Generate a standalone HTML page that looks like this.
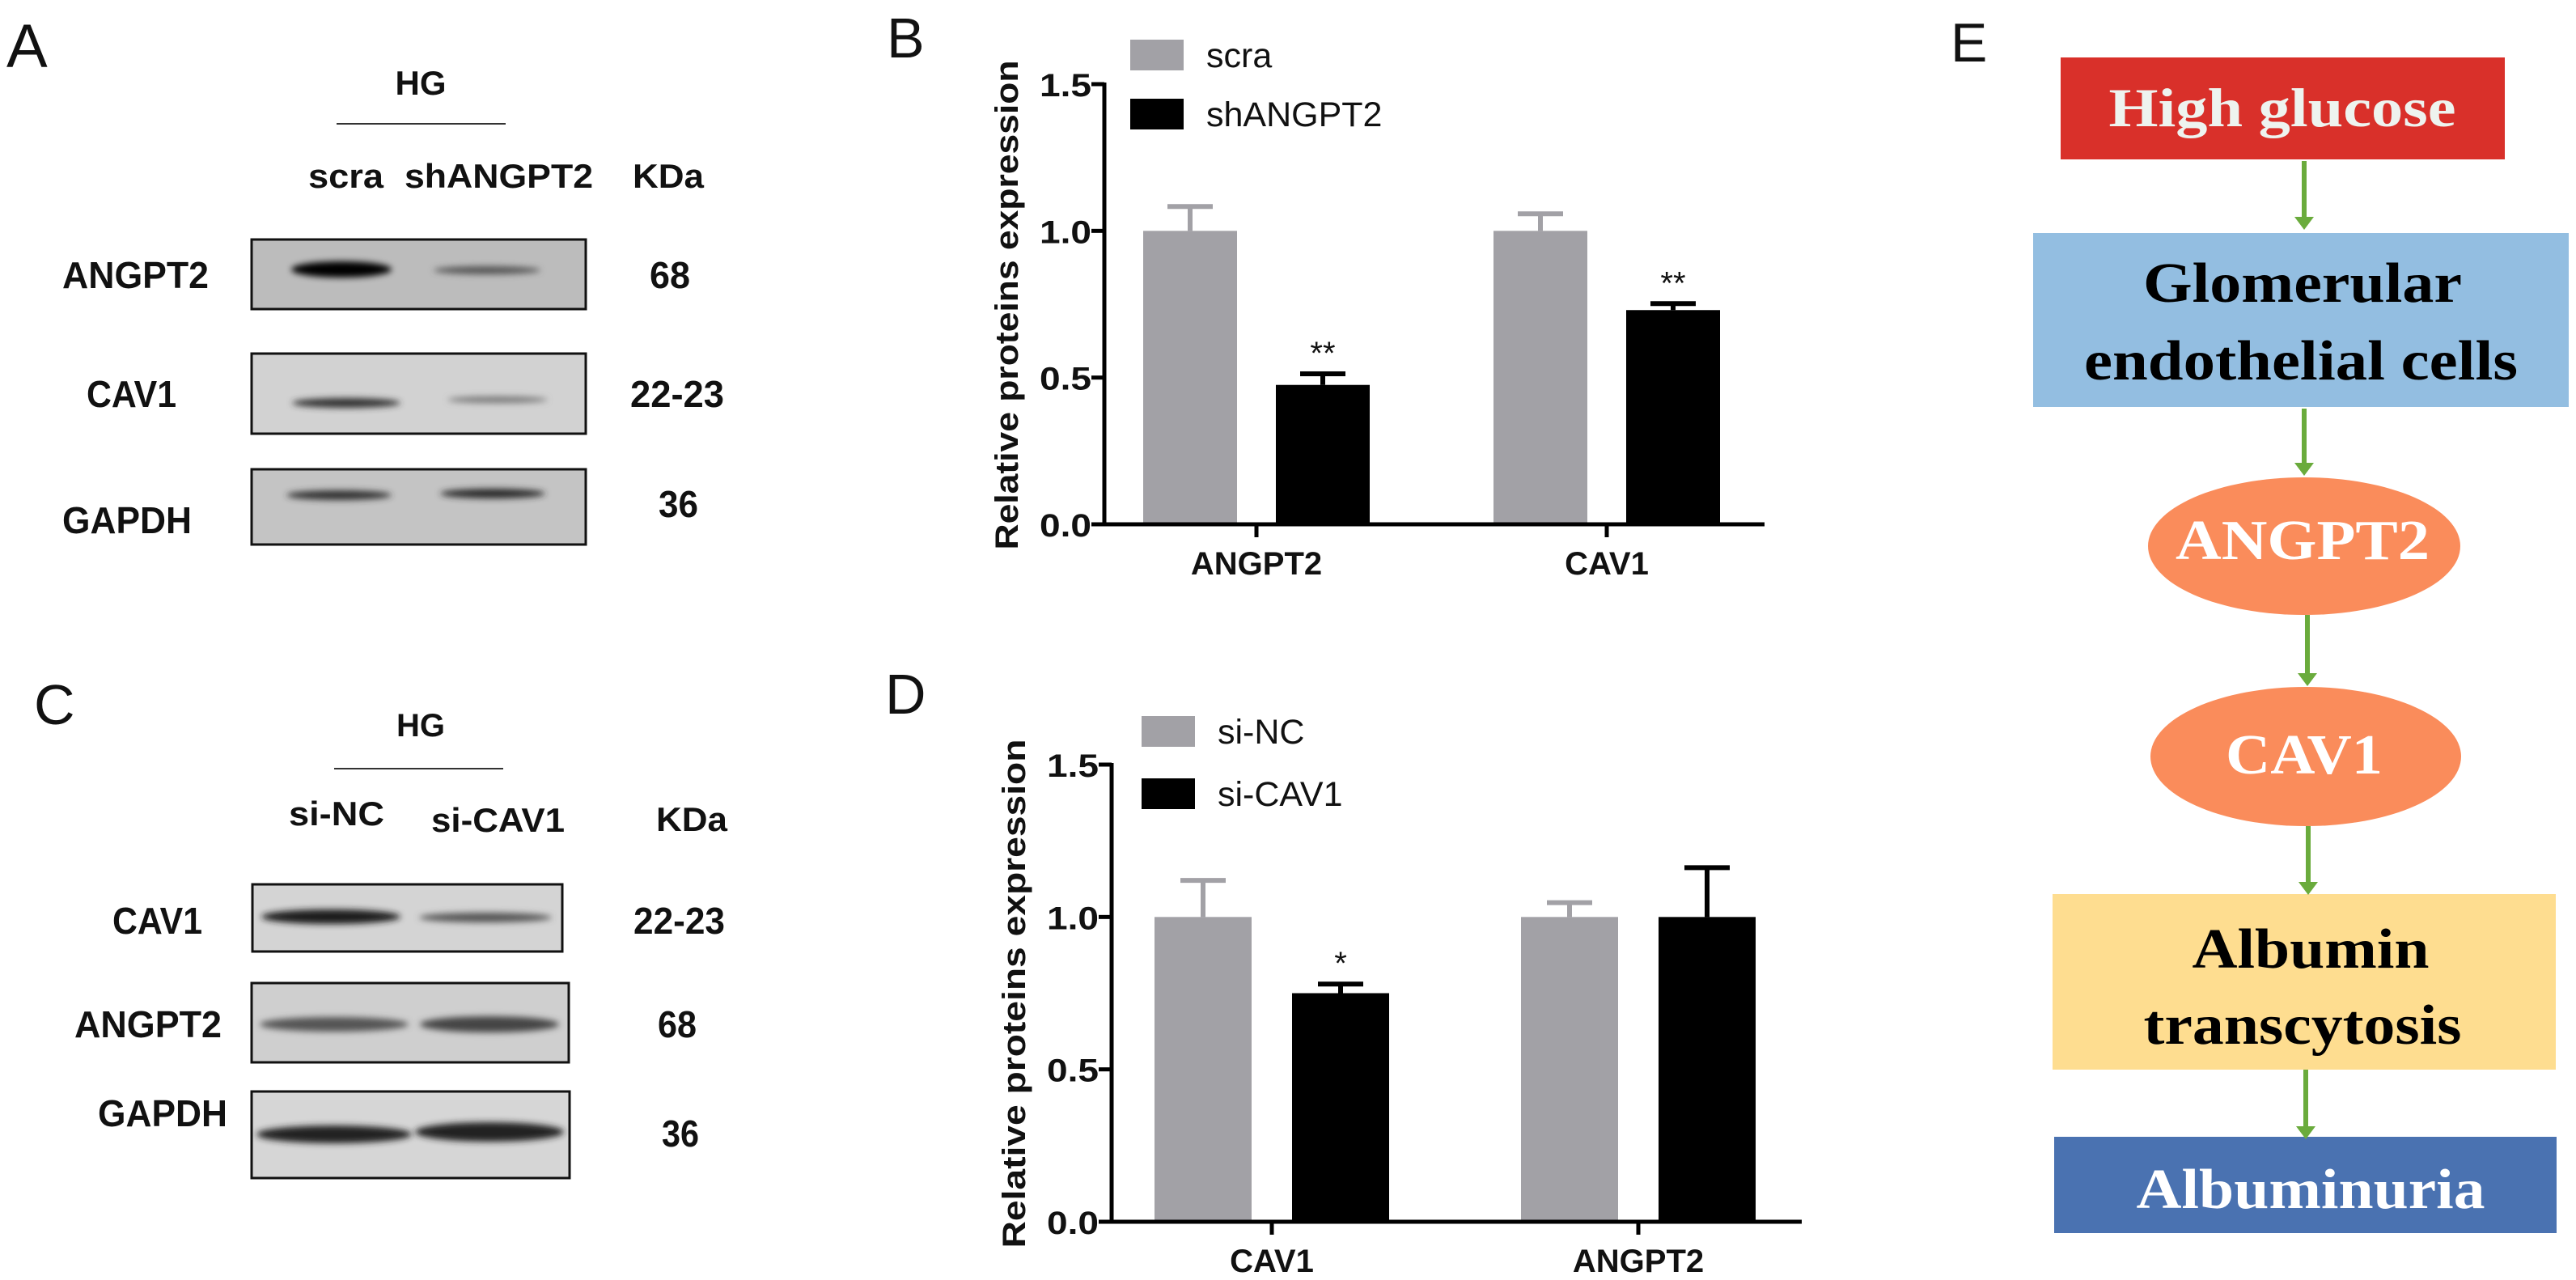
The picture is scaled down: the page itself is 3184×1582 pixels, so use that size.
<!DOCTYPE html>
<html><head><meta charset="utf-8"><style>
html,body{margin:0;padding:0;background:#fff;}
svg{display:block;}
.sb{font-family:"Liberation Sans",sans-serif;font-weight:bold;fill:#111;}
.sr{font-family:"Liberation Sans",sans-serif;fill:#111;}
.se{font-family:"Liberation Serif",serif;font-weight:bold;}
</style></head><body>
<svg id="fig" width="3184" height="1582" viewBox="0 0 3184 1582" xmlns="http://www.w3.org/2000/svg">
<defs>
<filter id="blur" x="-20%" y="-200%" width="140%" height="500%"><feGaussianBlur stdDeviation="4"/></filter>
</defs>

<!-- Panel A -->
<g>
<text class="sr" x="8" y="83" font-size="76" font-weight="normal">A</text>
<text class="sb" x="520" y="117" font-size="42" text-anchor="middle">HG</text>
<line x1="416" y1="153" x2="625" y2="153" stroke="#333" stroke-width="2"/>
<text class="sb" x="381" y="232" font-size="42" textLength="93" lengthAdjust="spacingAndGlyphs">scra</text>
<text class="sb" x="500" y="232" font-size="42" textLength="233" lengthAdjust="spacingAndGlyphs">shANGPT2</text>
<text class="sb" x="782" y="232" font-size="42" textLength="88" lengthAdjust="spacingAndGlyphs">KDa</text>

<rect x="311" y="296" width="413" height="86" fill="#bcbcbc" stroke="#111" stroke-width="3"/>
<ellipse cx="422" cy="333" rx="62" ry="10" fill="#050505" filter="url(#blur)"/>
<ellipse cx="602" cy="334" rx="66" ry="5" fill="#555" filter="url(#blur)"/>
<text class="sb" x="77" y="356" font-size="46" textLength="181" lengthAdjust="spacingAndGlyphs">ANGPT2</text>
<text class="sb" x="803" y="356" font-size="46" textLength="50" lengthAdjust="spacingAndGlyphs">68</text>

<rect x="311" y="437" width="413" height="99" fill="#d2d2d2" stroke="#111" stroke-width="3"/>
<ellipse cx="428" cy="498" rx="67" ry="6" fill="#333" filter="url(#blur)"/>
<ellipse cx="615" cy="494" rx="62" ry="4" fill="#777" filter="url(#blur)"/>
<text class="sb" x="107" y="503" font-size="46" textLength="111" lengthAdjust="spacingAndGlyphs">CAV1</text>
<text class="sb" x="779" y="503" font-size="46" textLength="116" lengthAdjust="spacingAndGlyphs">22-23</text>

<rect x="311" y="580" width="413" height="93" fill="#c4c4c4" stroke="#111" stroke-width="3"/>
<ellipse cx="419" cy="612" rx="65" ry="6" fill="#333" filter="url(#blur)"/>
<ellipse cx="609" cy="610" rx="65" ry="6" fill="#2a2a2a" filter="url(#blur)"/>
<text class="sb" x="77" y="659" font-size="46" textLength="160" lengthAdjust="spacingAndGlyphs">GAPDH</text>
<text class="sb" x="814" y="639" font-size="46" textLength="49" lengthAdjust="spacingAndGlyphs">36</text>
</g>

<!-- Panel C -->
<g>
<text class="sr" x="42" y="895" font-size="70">C</text>
<text class="sb" x="520" y="910" font-size="40" text-anchor="middle">HG</text>
<line x1="413" y1="950" x2="622" y2="950" stroke="#333" stroke-width="2"/>
<text class="sb" x="357" y="1020" font-size="42" textLength="118" lengthAdjust="spacingAndGlyphs">si-NC</text>
<text class="sb" x="533" y="1028" font-size="42" textLength="165" lengthAdjust="spacingAndGlyphs">si-CAV1</text>
<text class="sb" x="811" y="1027" font-size="42" textLength="88" lengthAdjust="spacingAndGlyphs">KDa</text>

<rect x="312" y="1093" width="383" height="83" fill="#d4d4d4" stroke="#111" stroke-width="3"/>
<ellipse cx="409" cy="1133" rx="86" ry="9" fill="#1a1a1a" filter="url(#blur)"/>
<ellipse cx="600" cy="1134" rx="82" ry="6" fill="#555" filter="url(#blur)"/>
<text class="sb" x="139" y="1154" font-size="46" textLength="111" lengthAdjust="spacingAndGlyphs">CAV1</text>
<text class="sb" x="783" y="1154" font-size="46" textLength="113" lengthAdjust="spacingAndGlyphs">22-23</text>

<rect x="311" y="1215" width="392" height="98" fill="#cfcfcf" stroke="#111" stroke-width="3"/>
<ellipse cx="413" cy="1266" rx="92" ry="9" fill="#555" filter="url(#blur)"/>
<ellipse cx="605" cy="1266" rx="86" ry="10" fill="#444" filter="url(#blur)"/>
<text class="sb" x="92" y="1282" font-size="46" textLength="182" lengthAdjust="spacingAndGlyphs">ANGPT2</text>
<text class="sb" x="813" y="1282" font-size="46" textLength="48" lengthAdjust="spacingAndGlyphs">68</text>

<rect x="311" y="1349" width="393" height="107" fill="#d6d6d6" stroke="#111" stroke-width="3"/>
<ellipse cx="413" cy="1402" rx="96" ry="11" fill="#222" filter="url(#blur)"/>
<ellipse cx="605" cy="1399" rx="92" ry="12" fill="#222" filter="url(#blur)"/>
<text class="sb" x="121" y="1392" font-size="46" textLength="160" lengthAdjust="spacingAndGlyphs">GAPDH</text>
<text class="sb" x="818" y="1417" font-size="46" textLength="46" lengthAdjust="spacingAndGlyphs">36</text>
</g>

<text class="sr" x="1096" y="71" font-size="70">B</text>
<text class="sr" x="1094" y="882" font-size="70">D</text>
<g id="chartB"></g>
<g id="chartD"></g>

<!-- Panel E -->
<g>
<text x="2411" y="76" font-family="Liberation Sans,sans-serif" font-size="68" fill="#111">E</text>
<rect x="2547" y="71" width="549" height="126" fill="#d9302a"/>
<text class="se" x="2821" y="156" font-size="68" fill="#eef3ef" text-anchor="middle" textLength="429" lengthAdjust="spacingAndGlyphs">High glucose</text>
<rect x="2513" y="288" width="662" height="215" fill="#93bee1"/>
<text class="se" x="2846" y="373" font-size="70" fill="#000" text-anchor="middle" textLength="394" lengthAdjust="spacingAndGlyphs">Glomerular</text>
<text class="se" x="2844" y="469" font-size="70" fill="#000" text-anchor="middle" textLength="536" lengthAdjust="spacingAndGlyphs">endothelial cells</text>
<ellipse cx="2848" cy="675" rx="193" ry="85" fill="#fa8c5b"/>
<text class="se" x="2846" y="691" font-size="70" fill="#fff" text-anchor="middle" textLength="314" lengthAdjust="spacingAndGlyphs">ANGPT2</text>
<ellipse cx="2850" cy="935" rx="192" ry="86" fill="#fa8c5b"/>
<text class="se" x="2848" y="956" font-size="70" fill="#fff" text-anchor="middle" textLength="194" lengthAdjust="spacingAndGlyphs">CAV1</text>
<rect x="2537" y="1105" width="622" height="217" fill="#fedd90"/>
<text class="se" x="2856" y="1196" font-size="70" fill="#000" text-anchor="middle" textLength="293" lengthAdjust="spacingAndGlyphs">Albumin</text>
<text class="se" x="2846" y="1290" font-size="70" fill="#000" text-anchor="middle" textLength="393" lengthAdjust="spacingAndGlyphs">transcytosis</text>
<rect x="2539" y="1405" width="621" height="119" fill="#4a72b1"/>
<text class="se" x="2856" y="1493" font-size="70" fill="#fff" text-anchor="middle" textLength="431" lengthAdjust="spacingAndGlyphs">Albuminuria</text>
<g stroke="#6aab3c" stroke-width="6" fill="#6aab3c">
<line x1="2848" y1="199" x2="2848" y2="272"/><polygon points="2836,268 2860,268 2848,284" stroke="none"/>
<line x1="2848" y1="505" x2="2848" y2="576"/><polygon points="2836,572 2860,572 2848,588" stroke="none"/>
<line x1="2852" y1="760" x2="2852" y2="836"/><polygon points="2840,832 2864,832 2852,848" stroke="none"/>
<line x1="2853" y1="1021" x2="2853" y2="1094"/><polygon points="2841,1090 2865,1090 2853,1106" stroke="none"/>
<line x1="2850" y1="1322" x2="2850" y2="1396"/><polygon points="2838,1392 2862,1392 2850,1408" stroke="none"/>
</g>
</g>
</svg>
<script>
// Chart B data
const catsB = ["ANGPT2", "CAV1"];
const seriesB = ["scra", "shANGPT2"];
const meanB_scra = [1.0, 1.0];
const errB_scra = [1.083, 1.058];
const meanB_sh = [0.475, 0.73];
const errB_sh = [0.513, 0.752];
const starsB = ["**", "**"];
// Chart D data
const catsD = ["CAV1", "ANGPT2"];
const seriesD = ["si-NC", "si-CAV1"];
const meanD_nc = [1.0, 1.0];
const errD_nc = [1.12, 1.047];
const meanD_si = [0.75, 1.0];
const errD_si = [0.78, 1.162];
const starsD = ["*", ""];
const yTicks = [0.0, 0.5, 1.0, 1.5];
const yTickLabels = ["0.0", "0.5", "1.0", "1.5"];

const NS = "http://www.w3.org/2000/svg";
function mk(parent, tag, attrs, text) {
  const e = document.createElementNS(NS, tag);
  for (const k in attrs) e.setAttribute(k, attrs[k]);
  if (text !== undefined) e.textContent = text;
  parent.appendChild(e);
  return e;
}
function drawChart(g, cfg) {
  const y = v => cfg.y0 - (v / 1.5) * (cfg.y0 - cfg.y15);
  const xc = i => cfg.c0 + i * cfg.dc;
  const GRAY = "#a2a1a6";
  // bars
  cfg.cats.forEach((c, i) => {
    const sets = [[cfg.m1, cfg.e1, GRAY, -1, cfg.s1], [cfg.m2, cfg.e2, "#000", 1, cfg.s2]];
    sets.forEach(([m, e, col, side, sname]) => {
      const cx = xc(i) + side * cfg.off;
      const r = mk(g, "rect", {x: cx - cfg.bw / 2, y: y(m[i]), width: cfg.bw, height: y(0) - y(m[i]), fill: col});
      
      
      const eb = mk(g, "path", {d: `M${cx},${y(m[i])} V${y(e[i])} M${cx - 28},${y(e[i])} H${cx + 28}`, stroke: col, "stroke-width": 6, fill: "none"});
      
      
    });
    if (cfg.stars[i]) {
      const st = mk(g, "text", {x: xc(i) + cfg.off, y: y(cfg.e2[i]) + 2 - 14, "font-size": 40, "text-anchor": "middle", class: "sr"}, cfg.stars[i]);
      
      
    }
    const tk = mk(g, "line", {x1: xc(i), x2: xc(i), y1: y(0), y2: y(0) + 16, stroke: "#000", "stroke-width": 5});
    
    
    const lb = mk(g, "text", {x: xc(i), y: y(0) + 62, "font-size": 40, "text-anchor": "middle", class: "sb"}, c);
    
    
  });
  // axes
  const ya = mk(g, "line", {x1: cfg.ax, x2: cfg.ax, y1: y(1.5) - 2, y2: y(0) + 2, stroke: "#000", "stroke-width": 5});
  
  
  const xa = mk(g, "line", {x1: cfg.ax - 16, x2: cfg.xEnd, y1: y(0), y2: y(0), stroke: "#000", "stroke-width": 5});
  
  
  yTicks.forEach((t, k) => {
    const tl = mk(g, "line", {x1: cfg.ax - 16, x2: cfg.ax, y1: y(t), y2: y(t), stroke: "#000", "stroke-width": 5});
    
    
    const tt = mk(g, "text", {x: cfg.ax - 80, y: y(t) + 15, "font-size": 40, class: "sb", textLength: 64, lengthAdjust: "spacingAndGlyphs"}, yTickLabels[k]);
    
    
  });
  const ttl = mk(g, "text", {x: 0, y: 0, "font-size": 40, class: "sb", "text-anchor": "middle", textLength: cfg.tLen, lengthAdjust: "spacingAndGlyphs", transform: `translate(${cfg.tx},${cfg.ty}) rotate(-90)`}, "Relative proteins expression");
  
  
  // legend
  [[cfg.s1, GRAY, cfg.ly1], [cfg.s2, "#000", cfg.ly2]].forEach(([s, col, ly]) => {
    const sw = mk(g, "rect", {x: cfg.lx, y: ly, width: 66, height: 38, fill: col});
    
    
    const lt = mk(g, "text", {x: cfg.lx + 94, y: ly + 34, "font-size": 43, class: "sr"}, s);
    
    
  });
}
drawChart(document.getElementById("chartB"), {
  cats: catsB, s1: seriesB[0], s2: seriesB[1], m1: meanB_scra, e1: errB_scra, m2: meanB_sh, e2: errB_sh, stars: starsB,
  y0: 648, y15: 104, ax: 1365, xEnd: 2181, c0: 1553, dc: 433, off: 82, bw: 116,
  tx: 1258, ty: 377, tLen: 605, lx: 1397, ly1: 49, ly2: 122
});
drawChart(document.getElementById("chartD"), {
  cats: catsD, s1: seriesD[0], s2: seriesD[1], m1: meanD_nc, e1: errD_nc, m2: meanD_si, e2: errD_si, stars: starsD,
  y0: 1510, y15: 945, ax: 1374, xEnd: 2227, c0: 1572, dc: 453, off: 85, bw: 120,
  tx: 1267, ty: 1228, tLen: 629, lx: 1411, ly1: 885, ly2: 962
});
</script>
</body></html>
